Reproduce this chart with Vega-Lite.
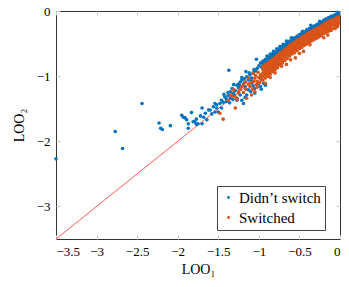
{"$schema":"https://vega.github.io/schema/vega-lite/v6.json","width":284,"height":228,"autosize":"none","padding":{"left":56,"top":11,"right":9,"bottom":48},
"config":{"view":{"stroke":"#333","strokeWidth":1},"font":"Liberation Serif",
"axis":{"grid":false,"domain":false,"tickColor":"#c8c8c8","tickSize":-4,"tickWidth":1,"labelFont":"Liberation Serif","labelFontSize":13,"labelColor":"#000","labelPadding":10,"titleFont":"Liberation Serif","titleFontSize":14,"titleFontWeight":"normal","titleColor":"#000"},
"legend":{"orient":"none","legendX":161,"legendY":175,"fillColor":"white","strokeColor":"#444","padding":4,"symbolType":"circle","symbolSize":8,"symbolStrokeWidth":0,"labelFont":"Liberation Serif","labelFontSize":15,"labelColor":"#000","rowPadding":4,"labelOffset":3}},
"datasets":{"diag":[{"x":-3.5,"y":-3.5},{"x":0,"y":0}],
"pts":[
{"x":-0.02,"y":-0.03,"g":"D"},{"x":-0.02,"y":-0.06,"g":"D"},{"x":-0.05,"y":-0.05,"g":"D"},{"x":-0.05,"y":-0.08,"g":"D"},{"x":-0.08,"y":-0.07,"g":"D"},{"x":-0.08,"y":-0.10,"g":"D"},{"x":-0.11,"y":-0.08,"g":"D"},{"x":-0.11,"y":-0.12,"g":"D"},{"x":-0.14,"y":-0.10,"g":"D"},{"x":-0.14,"y":-0.14,"g":"D"},{"x":-0.17,"y":-0.12,"g":"D"},{"x":-0.17,"y":-0.16,"g":"D"},{"x":-0.20,"y":-0.14,"g":"D"},{"x":-0.20,"y":-0.18,"g":"D"},{"x":-0.23,"y":-0.17,"g":"D"},{"x":-0.23,"y":-0.20,"g":"D"},{"x":-0.26,"y":-0.19,"g":"D"},{"x":-0.26,"y":-0.22,"g":"D"},{"x":-0.29,"y":-0.21,"g":"D"},{"x":-0.29,"y":-0.24,"g":"D"},{"x":-0.32,"y":-0.23,"g":"D"},{"x":-0.32,"y":-0.26,"g":"D"},{"x":-0.35,"y":-0.25,"g":"D"},{"x":-0.35,"y":-0.28,"g":"D"},{"x":-0.38,"y":-0.27,"g":"D"},{"x":-0.38,"y":-0.30,"g":"D"},{"x":-0.41,"y":-0.29,"g":"D"},{"x":-0.41,"y":-0.33,"g":"D"},{"x":-0.44,"y":-0.32,"g":"D"},{"x":-0.44,"y":-0.35,"g":"D"},{"x":-0.47,"y":-0.34,"g":"D"},{"x":-0.47,"y":-0.38,"g":"D"},{"x":-0.50,"y":-0.36,"g":"D"},{"x":-0.50,"y":-0.40,"g":"D"},{"x":-0.53,"y":-0.39,"g":"D"},{"x":-0.53,"y":-0.42,"g":"D"},{"x":-0.56,"y":-0.41,"g":"D"},{"x":-0.56,"y":-0.45,"g":"D"},{"x":-0.59,"y":-0.43,"g":"D"},{"x":-0.59,"y":-0.47,"g":"D"},{"x":-0.62,"y":-0.46,"g":"D"},{"x":-0.62,"y":-0.50,"g":"D"},{"x":-0.65,"y":-0.49,"g":"D"},{"x":-0.65,"y":-0.53,"g":"D"},{"x":-0.68,"y":-0.52,"g":"D"},{"x":-0.68,"y":-0.56,"g":"D"},{"x":-0.71,"y":-0.55,"g":"D"},{"x":-0.71,"y":-0.59,"g":"D"},{"x":-0.74,"y":-0.57,"g":"D"},{"x":-0.74,"y":-0.61,"g":"D"},{"x":-0.77,"y":-0.60,"g":"D"},{"x":-0.77,"y":-0.64,"g":"D"},{"x":-0.80,"y":-0.63,"g":"D"},{"x":-0.80,"y":-0.67,"g":"D"},{"x":-0.83,"y":-0.66,"g":"D"},{"x":-0.83,"y":-0.70,"g":"D"},{"x":-0.86,"y":-0.69,"g":"D"},{"x":-0.86,"y":-0.73,"g":"D"},{"x":-0.89,"y":-0.72,"g":"D"},{"x":-0.89,"y":-0.76,"g":"D"},{"x":-0.92,"y":-0.74,"g":"D"},{"x":-0.92,"y":-0.78,"g":"D"},{"x":-0.95,"y":-0.77,"g":"D"},{"x":-0.95,"y":-0.81,"g":"D"},
{"x":-0.03,"y":-0.02,"g":"D"},{"x":-0.25,"y":-0.16,"g":"D"},{"x":-0.46,"y":-0.31,"g":"D"},{"x":-0.66,"y":-0.46,"g":"D"},{"x":-0.74,"y":-0.545,"g":"D"},{"x":-0.78,"y":-0.58,"g":"D"},{"x":-0.82,"y":-0.62,"g":"D"},{"x":-0.86,"y":-0.66,"g":"D"},{"x":-0.90,"y":-0.69,"g":"D"},{"x":-0.70,"y":-0.51,"g":"D"},{"x":-0.60,"y":-0.41,"g":"D"},{"x":-0.36,"y":-0.22,"g":"D"},
{"x":-0.98,"y":-0.80,"g":"D"},{"x":-1.00,"y":-0.84,"g":"D"},{"x":-1.02,"y":-0.88,"g":"D"},{"x":-0.97,"y":-0.86,"g":"D"},{"x":-1.04,"y":-0.92,"g":"D"},{"x":-1.07,"y":-0.95,"g":"D"},{"x":-1.03,"y":-0.74,"g":"D"},{"x":-1.16,"y":-0.93,"g":"D"},{"x":-1.37,"y":-0.91,"g":"D"},
{"x":-1.11,"y":-0.98,"g":"D"},{"x":-1.09,"y":-1.03,"g":"D"},{"x":-1.15,"y":-1.01,"g":"D"},{"x":-1.13,"y":-1.06,"g":"D"},{"x":-1.09,"y":-1.07,"g":"D"},{"x":-1.09,"y":-1.11,"g":"D"},{"x":-1.17,"y":-1.09,"g":"D"},{"x":-1.21,"y":-1.06,"g":"D"},{"x":-1.23,"y":-1.09,"g":"D"},{"x":-1.19,"y":-1.12,"g":"D"},{"x":-1.27,"y":-1.14,"g":"D"},{"x":-1.17,"y":-1.16,"g":"D"},{"x":-1.25,"y":-1.18,"g":"D"},{"x":-1.21,"y":-1.02,"g":"D"},{"x":-1.06,"y":-0.90,"g":"D"},{"x":-1.12,"y":-0.95,"g":"D"},{"x":-1.18,"y":-1.04,"g":"D"},{"x":-1.24,"y":-1.14,"g":"D"},
{"x":-0.96,"y":-1.01,"g":"D"},{"x":-0.94,"y":-1.11,"g":"D"},{"x":-0.92,"y":-1.14,"g":"D"},{"x":-0.98,"y":-1.16,"g":"D"},{"x":-1.05,"y":-1.19,"g":"D"},{"x":-1.05,"y":-1.26,"g":"D"},{"x":-1.13,"y":-1.21,"g":"D"},{"x":-1.15,"y":-1.29,"g":"D"},{"x":-1.21,"y":-1.37,"g":"D"},{"x":-1.27,"y":-1.34,"g":"D"},{"x":-1.23,"y":-1.29,"g":"D"},{"x":-1.27,"y":-1.37,"g":"D"},{"x":-1.19,"y":-1.42,"g":"D"},{"x":-1.01,"y":-1.12,"g":"D"},{"x":-1.07,"y":-1.15,"g":"D"},{"x":-1.10,"y":-1.24,"g":"D"},{"x":-1.17,"y":-1.33,"g":"D"},{"x":-0.97,"y":-1.20,"g":"D"},
{"x":-1.33,"y":-1.19,"g":"D"},{"x":-1.35,"y":-1.24,"g":"D"},{"x":-1.31,"y":-1.26,"g":"D"},{"x":-1.29,"y":-1.22,"g":"D"},{"x":-1.33,"y":-1.29,"g":"D"},{"x":-1.35,"y":-1.34,"g":"D"},{"x":-1.32,"y":-1.36,"g":"D"},{"x":-1.40,"y":-1.39,"g":"D"},{"x":-1.42,"y":-1.32,"g":"D"},{"x":-1.46,"y":-1.37,"g":"D"},{"x":-1.40,"y":-1.35,"g":"D"},{"x":-1.44,"y":-1.40,"g":"D"},{"x":-1.48,"y":-1.42,"g":"D"},{"x":-1.52,"y":-1.44,"g":"D"},{"x":-1.54,"y":-1.42,"g":"D"},{"x":-1.30,"y":-1.30,"g":"D"},{"x":-1.38,"y":-1.30,"g":"D"},{"x":-1.31,"y":-1.13,"g":"D"},{"x":-1.25,"y":-1.12,"g":"D"},{"x":-1.38,"y":-1.25,"g":"D"},{"x":-1.43,"y":-1.28,"g":"D"},{"x":-1.36,"y":-1.41,"g":"D"},
{"x":-1.50,"y":-1.55,"g":"D"},{"x":-1.46,"y":-1.49,"g":"D"},{"x":-1.52,"y":-1.49,"g":"D"},{"x":-1.54,"y":-1.55,"g":"D"},{"x":-1.56,"y":-1.47,"g":"D"},{"x":-1.58,"y":-1.58,"g":"D"},{"x":-1.60,"y":-1.52,"g":"D"},{"x":-1.62,"y":-1.52,"g":"D"},{"x":-1.64,"y":-1.67,"g":"D"},{"x":-1.66,"y":-1.57,"g":"D"},{"x":-1.68,"y":-1.63,"g":"D"},{"x":-1.70,"y":-1.73,"g":"D"},{"x":-1.70,"y":-1.49,"g":"D"},{"x":-1.72,"y":-1.61,"g":"D"},{"x":-1.75,"y":-1.73,"g":"D"},{"x":-1.77,"y":-1.66,"g":"D"},{"x":-1.77,"y":-1.74,"g":"D"},{"x":-1.79,"y":-1.70,"g":"D"},{"x":-1.81,"y":-1.70,"g":"D"},{"x":-1.83,"y":-1.56,"g":"D"},{"x":-1.87,"y":-1.73,"g":"D"},{"x":-1.87,"y":-1.80,"g":"D"},{"x":-1.89,"y":-1.67,"g":"D"},{"x":-1.91,"y":-1.64,"g":"D"},{"x":-1.93,"y":-1.63,"g":"D"},{"x":-1.95,"y":-1.60,"g":"D"},
{"x":-2.09,"y":-1.76,"g":"D"},{"x":-2.19,"y":-1.82,"g":"D"},{"x":-2.21,"y":-1.80,"g":"D"},{"x":-2.23,"y":-1.72,"g":"D"},{"x":-2.44,"y":-1.42,"g":"D"},{"x":-2.77,"y":-1.85,"g":"D"},{"x":-2.68,"y":-2.11,"g":"D"},{"x":-3.5,"y":-2.27,"g":"D"},
{"x":-0.02,"y":-0.09,"g":"S"},{"x":-0.02,"y":-0.13,"g":"S"},{"x":-0.02,"y":-0.17,"g":"S"},{"x":-0.02,"y":-0.20,"g":"S"},
{"x":-0.05,"y":-0.11,"g":"S"},{"x":-0.05,"y":-0.15,"g":"S"},{"x":-0.05,"y":-0.19,"g":"S"},{"x":-0.05,"y":-0.23,"g":"S"},
{"x":-0.08,"y":-0.13,"g":"S"},{"x":-0.08,"y":-0.17,"g":"S"},{"x":-0.08,"y":-0.21,"g":"S"},{"x":-0.08,"y":-0.26,"g":"S"},
{"x":-0.11,"y":-0.14,"g":"S"},{"x":-0.11,"y":-0.18,"g":"S"},{"x":-0.11,"y":-0.22,"g":"S"},{"x":-0.11,"y":-0.26,"g":"S"},{"x":-0.11,"y":-0.29,"g":"S"},
{"x":-0.14,"y":-0.16,"g":"S"},{"x":-0.14,"y":-0.20,"g":"S"},{"x":-0.14,"y":-0.24,"g":"S"},{"x":-0.14,"y":-0.28,"g":"S"},{"x":-0.14,"y":-0.31,"g":"S"},
{"x":-0.17,"y":-0.18,"g":"S"},{"x":-0.17,"y":-0.22,"g":"S"},{"x":-0.17,"y":-0.26,"g":"S"},{"x":-0.17,"y":-0.30,"g":"S"},{"x":-0.17,"y":-0.33,"g":"S"},
{"x":-0.20,"y":-0.20,"g":"S"},{"x":-0.20,"y":-0.24,"g":"S"},{"x":-0.20,"y":-0.28,"g":"S"},{"x":-0.20,"y":-0.32,"g":"S"},{"x":-0.20,"y":-0.35,"g":"S"},
{"x":-0.23,"y":-0.23,"g":"S"},{"x":-0.23,"y":-0.27,"g":"S"},{"x":-0.23,"y":-0.31,"g":"S"},{"x":-0.23,"y":-0.35,"g":"S"},{"x":-0.23,"y":-0.38,"g":"S"},
{"x":-0.26,"y":-0.25,"g":"S"},{"x":-0.26,"y":-0.29,"g":"S"},{"x":-0.26,"y":-0.33,"g":"S"},{"x":-0.26,"y":-0.37,"g":"S"},{"x":-0.26,"y":-0.40,"g":"S"},
{"x":-0.29,"y":-0.27,"g":"S"},{"x":-0.29,"y":-0.31,"g":"S"},{"x":-0.29,"y":-0.35,"g":"S"},{"x":-0.29,"y":-0.39,"g":"S"},{"x":-0.29,"y":-0.42,"g":"S"},
{"x":-0.32,"y":-0.29,"g":"S"},{"x":-0.32,"y":-0.33,"g":"S"},{"x":-0.32,"y":-0.37,"g":"S"},{"x":-0.32,"y":-0.41,"g":"S"},{"x":-0.32,"y":-0.44,"g":"S"},
{"x":-0.35,"y":-0.31,"g":"S"},{"x":-0.35,"y":-0.35,"g":"S"},{"x":-0.35,"y":-0.39,"g":"S"},{"x":-0.35,"y":-0.43,"g":"S"},{"x":-0.35,"y":-0.46,"g":"S"},
{"x":-0.38,"y":-0.33,"g":"S"},{"x":-0.38,"y":-0.37,"g":"S"},{"x":-0.38,"y":-0.41,"g":"S"},{"x":-0.38,"y":-0.45,"g":"S"},{"x":-0.38,"y":-0.48,"g":"S"},
{"x":-0.41,"y":-0.35,"g":"S"},{"x":-0.41,"y":-0.39,"g":"S"},{"x":-0.41,"y":-0.43,"g":"S"},{"x":-0.41,"y":-0.47,"g":"S"},{"x":-0.41,"y":-0.51,"g":"S"},
{"x":-0.44,"y":-0.38,"g":"S"},{"x":-0.44,"y":-0.42,"g":"S"},{"x":-0.44,"y":-0.46,"g":"S"},{"x":-0.44,"y":-0.50,"g":"S"},{"x":-0.44,"y":-0.53,"g":"S"},
{"x":-0.47,"y":-0.40,"g":"S"},{"x":-0.47,"y":-0.44,"g":"S"},{"x":-0.47,"y":-0.48,"g":"S"},{"x":-0.47,"y":-0.52,"g":"S"},{"x":-0.47,"y":-0.56,"g":"S"},
{"x":-0.50,"y":-0.43,"g":"S"},{"x":-0.50,"y":-0.47,"g":"S"},{"x":-0.50,"y":-0.51,"g":"S"},{"x":-0.50,"y":-0.55,"g":"S"},{"x":-0.50,"y":-0.58,"g":"S"},
{"x":-0.53,"y":-0.45,"g":"S"},{"x":-0.53,"y":-0.49,"g":"S"},{"x":-0.53,"y":-0.53,"g":"S"},{"x":-0.53,"y":-0.57,"g":"S"},{"x":-0.53,"y":-0.61,"g":"S"},
{"x":-0.56,"y":-0.48,"g":"S"},{"x":-0.56,"y":-0.52,"g":"S"},{"x":-0.56,"y":-0.56,"g":"S"},{"x":-0.56,"y":-0.60,"g":"S"},{"x":-0.56,"y":-0.64,"g":"S"},
{"x":-0.59,"y":-0.50,"g":"S"},{"x":-0.59,"y":-0.54,"g":"S"},{"x":-0.59,"y":-0.58,"g":"S"},{"x":-0.59,"y":-0.62,"g":"S"},{"x":-0.59,"y":-0.66,"g":"S"},
{"x":-0.62,"y":-0.53,"g":"S"},{"x":-0.62,"y":-0.57,"g":"S"},{"x":-0.62,"y":-0.61,"g":"S"},{"x":-0.62,"y":-0.65,"g":"S"},{"x":-0.62,"y":-0.69,"g":"S"},
{"x":-0.65,"y":-0.56,"g":"S"},{"x":-0.65,"y":-0.60,"g":"S"},{"x":-0.65,"y":-0.64,"g":"S"},{"x":-0.65,"y":-0.68,"g":"S"},{"x":-0.65,"y":-0.73,"g":"S"},
{"x":-0.68,"y":-0.59,"g":"S"},{"x":-0.68,"y":-0.63,"g":"S"},{"x":-0.68,"y":-0.67,"g":"S"},{"x":-0.68,"y":-0.71,"g":"S"},{"x":-0.68,"y":-0.76,"g":"S"},
{"x":-0.71,"y":-0.62,"g":"S"},{"x":-0.71,"y":-0.66,"g":"S"},{"x":-0.71,"y":-0.70,"g":"S"},{"x":-0.71,"y":-0.74,"g":"S"},{"x":-0.71,"y":-0.77,"g":"S"},{"x":-0.71,"y":-0.80,"g":"S"},
{"x":-0.74,"y":-0.65,"g":"S"},{"x":-0.74,"y":-0.69,"g":"S"},{"x":-0.74,"y":-0.73,"g":"S"},{"x":-0.74,"y":-0.77,"g":"S"},{"x":-0.74,"y":-0.80,"g":"S"},{"x":-0.74,"y":-0.83,"g":"S"},
{"x":-0.77,"y":-0.68,"g":"S"},{"x":-0.77,"y":-0.72,"g":"S"},{"x":-0.77,"y":-0.76,"g":"S"},{"x":-0.77,"y":-0.80,"g":"S"},{"x":-0.77,"y":-0.83,"g":"S"},{"x":-0.77,"y":-0.87,"g":"S"},
{"x":-0.80,"y":-0.71,"g":"S"},{"x":-0.80,"y":-0.75,"g":"S"},{"x":-0.80,"y":-0.79,"g":"S"},{"x":-0.80,"y":-0.83,"g":"S"},{"x":-0.80,"y":-0.87,"g":"S"},{"x":-0.80,"y":-0.90,"g":"S"},
{"x":-0.83,"y":-0.74,"g":"S"},{"x":-0.83,"y":-0.78,"g":"S"},{"x":-0.83,"y":-0.82,"g":"S"},{"x":-0.83,"y":-0.86,"g":"S"},{"x":-0.83,"y":-0.90,"g":"S"},{"x":-0.83,"y":-0.93,"g":"S"},
{"x":-0.86,"y":-0.77,"g":"S"},{"x":-0.86,"y":-0.81,"g":"S"},{"x":-0.86,"y":-0.85,"g":"S"},{"x":-0.86,"y":-0.89,"g":"S"},{"x":-0.86,"y":-0.93,"g":"S"},{"x":-0.86,"y":-0.97,"g":"S"},
{"x":-0.89,"y":-0.80,"g":"S"},{"x":-0.89,"y":-0.84,"g":"S"},{"x":-0.89,"y":-0.88,"g":"S"},{"x":-0.89,"y":-0.92,"g":"S"},{"x":-0.89,"y":-0.96,"g":"S"},{"x":-0.89,"y":-1.00,"g":"S"},
{"x":-0.92,"y":-0.82,"g":"S"},{"x":-0.92,"y":-0.86,"g":"S"},{"x":-0.92,"y":-0.90,"g":"S"},{"x":-0.92,"y":-0.94,"g":"S"},{"x":-0.92,"y":-0.98,"g":"S"},{"x":-0.92,"y":-1.03,"g":"S"},
{"x":-0.95,"y":-0.85,"g":"S"},{"x":-0.95,"y":-0.90,"g":"S"},{"x":-0.95,"y":-0.95,"g":"S"},{"x":-0.95,"y":-1.00,"g":"S"},{"x":-0.95,"y":-1.06,"g":"S"},
{"x":-0.03,"y":-0.24,"g":"S"},{"x":-0.11,"y":-0.30,"g":"S"},{"x":-0.06,"y":-0.27,"g":"S"},{"x":-0.20,"y":-0.41,"g":"S"},{"x":-0.15,"y":-0.37,"g":"S"},{"x":-0.37,"y":-0.52,"g":"S"},{"x":-0.45,"y":-0.62,"g":"S"},{"x":-0.50,"y":-0.65,"g":"S"},{"x":-0.55,"y":-0.72,"g":"S"},{"x":-0.61,"y":-0.75,"g":"S"},{"x":-0.66,"y":-0.82,"g":"S"},{"x":-0.72,"y":-0.85,"g":"S"},{"x":-0.80,"y":-0.95,"g":"S"},{"x":-0.86,"y":-1.02,"g":"S"},{"x":-0.92,"y":-1.11,"g":"S"},
{"x":-0.98,"y":-0.98,"g":"S"},{"x":-1.00,"y":-1.02,"g":"S"},{"x":-1.02,"y":-1.08,"g":"S"},{"x":-0.97,"y":-1.06,"g":"S"},{"x":-1.03,"y":-1.13,"g":"S"},{"x":-1.05,"y":-1.03,"g":"S"},{"x":-1.07,"y":-0.96,"g":"S"},{"x":-1.10,"y":-1.10,"g":"S"},{"x":-1.13,"y":-1.03,"g":"S"},{"x":-1.13,"y":-1.12,"g":"S"},{"x":-1.17,"y":-1.09,"g":"S"},{"x":-1.11,"y":-1.16,"g":"S"},{"x":-1.19,"y":-1.14,"g":"S"},{"x":-1.21,"y":-1.16,"g":"S"},{"x":-1.23,"y":-1.20,"g":"S"},{"x":-1.25,"y":-1.24,"g":"S"},{"x":-1.19,"y":-1.25,"g":"S"},{"x":-1.25,"y":-1.26,"g":"S"},{"x":-1.31,"y":-1.21,"g":"S"},{"x":-1.29,"y":-1.32,"g":"S"},{"x":-1.33,"y":-1.31,"g":"S"},{"x":-1.27,"y":-1.36,"g":"S"},{"x":-1.35,"y":-1.29,"g":"S"},{"x":-1.09,"y":-1.29,"g":"S"},{"x":-1.15,"y":-1.34,"g":"S"},{"x":-1.05,"y":-1.24,"g":"S"},{"x":-1.29,"y":-1.49,"g":"S"},{"x":-1.44,"y":-1.66,"g":"S"},{"x":-1.38,"y":-1.37,"g":"S"},{"x":-1.48,"y":-1.57,"g":"S"},{"x":-1.01,"y":-0.94,"g":"S"},{"x":-1.04,"y":-0.99,"g":"S"},{"x":-0.99,"y":-1.10,"g":"S"},{"x":-1.08,"y":-1.20,"g":"S"},{"x":-1.02,"y":-1.17,"g":"S"},{"x":-1.16,"y":-1.20,"g":"S"},{"x":-1.06,"y":-1.08,"g":"S"},{"x":-0.98,"y":-1.04,"g":"S"}
]},
"layer":[
{"data":{"name":"diag"},"mark":{"type":"line","color":"#ff3030","strokeWidth":0.8},
"encoding":{"x":{"field":"x","type":"quantitative","scale":{"domain":[-3.5,0],"nice":false,"zero":false},"axis":{"orient":"bottom","values":[-3.5,-3,-2.5,-2,-1.5,-1,-0.5,0],"format":"~g","title":"LOO₁","titlePadding":4}},
"y":{"field":"y","type":"quantitative","scale":{"domain":[-3.5,0],"nice":false,"zero":false},"axis":{"orient":"left","values":[-3,-2,-1,0],"format":"~g","title":"LOO₂","titlePadding":10}}}},
{"data":{"name":"pts"},"mark":{"type":"circle","size":13,"opacity":1},
"encoding":{"x":{"field":"x","type":"quantitative","scale":{"domain":[-3.5,0],"nice":false,"zero":false},"axis":{"orient":"top","labels":false,"title":null,"values":[-3.5,-3,-2.5,-2,-1.5,-1,-0.5,0]}},
"y":{"field":"y","type":"quantitative","scale":{"domain":[-3.5,0],"nice":false,"zero":false},"axis":{"orient":"right","labels":false,"title":null,"values":[-3,-2,-1,0]}},
"color":{"field":"g","type":"nominal","scale":{"domain":["D","S"],"range":["#0072BD","#D95319"]},"legend":{"title":null,"labelExpr":"datum.label == 'D' ? 'Didn’t switch' : 'Switched'"}}}}
],
"resolve":{"axis":{"x":"independent","y":"independent"}}}
